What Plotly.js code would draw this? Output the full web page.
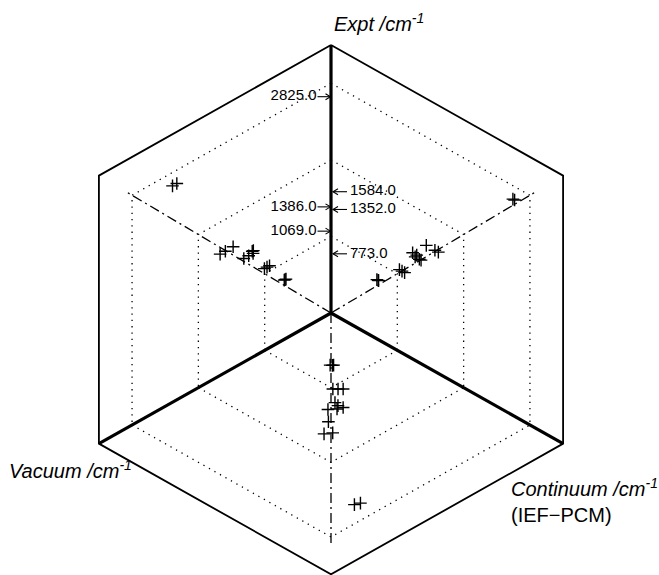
<!DOCTYPE html>
<html><head><meta charset="utf-8">
<script src="https://cdn.plot.ly/plotly-3.0.1.min.js"></script>
<style>html,body{margin:0;padding:0;background:#fff}#chart{width:659px;height:575px}</style>
</head><body><div id="chart"></div>
<script>
// ---- data (cm^-1) ----
const expt      = [2825, 2825,  773,  773,  773, 1069, 1069, 1069, 1352, 1352, 1386, 1386, 1352, 1584, 1584, 1584];
const vacuum    = [2390, 2325,  679,  705,  692, 1004,  965,  927, 1315, 1175, 1171, 1188, 1241, 1476, 1672, 1593];
const continuum = [2743, 2769,  718,  692,  712, 1032, 1071, 1110, 1269, 1358, 1231, 1293, 1332, 1437, 1567, 1619];
const exptLabels = [2825.0, 1584.0, 1386.0, 1352.0, 1069.0, 773.0];
const labelSides = ['left', 'right', 'left', 'right', 'left', 'right'];
const gridValues = [1000, 2000, 3000];
const axisMax = 3500;
const diagMax = 3100;
const titleExpt = '<i>Expt /cm<sup>-1</sup></i>';
const titleVacuum = '<i>Vacuum /cm<sup>-1</sup></i>';
const titleContinuum = '<i>Continuum /cm<sup>-1</sup></i><br>(IEF\u2212PCM)';

// ---- near-isometric parallel projection onto a 2D axis pair in cm^-1 units ----
const W = 659, H = 575, CX = 331, CY = 313, PX = 268 / axisMax;
const C30 = Math.cos(Math.PI / 6), SV = 0.4875;
function proj(a, c, e) { return [(c - a) * C30, e - (a + c) * SV]; }
function path(list) {
  const x = [], y = [];
  list.forEach(pl => { pl.forEach(p => { const q = proj(p[0], p[1], p[2]); x.push(q[0]); y.push(q[1]); }); x.push(null); y.push(null); });
  return {x, y};
}
const M = axisMax;
const outline = path([[[0,0,M],[M,0,M],[M,0,0],[M,M,0],[0,M,0],[0,M,M],[0,0,M]]]);
const axesP = path([[[0,0,0],[M,0,0]], [[0,0,0],[0,M,0]], [[0,0,0],[0,0,M]]]);
const gridL = [];
gridValues.forEach(v => {
  gridL.push([[0,0,v],[v,0,v],[v,0,0]]);
  gridL.push([[0,0,v],[0,v,v],[0,v,0]]);
  gridL.push([[v,0,0],[v,v,0],[0,v,0]]);
});
const grid = path(gridL);
const diag = path([[[0,0,0],[diagMax,0,diagMax]], [[0,0,0],[0,diagMax,diagMax]], [[0,0,0],[diagMax,diagMax,0]]]);

const mx = [], my = [];
for (let i = 0; i < expt.length; i++) {
  [[vacuum[i], 0, expt[i]], [0, continuum[i], expt[i]], [vacuum[i], continuum[i], 0]].forEach(p => {
    const q = proj(p[0], p[1], p[2]); mx.push(q[0]); my.push(q[1]);
  });
}

// label arrows (pointing at the Expt axis value) and label texts
const px = d => d / PX; // pixel length -> data units
const ax = [], ay = [];
const tL = {x: [], y: [], t: []}, tR = {x: [], y: [], t: []};
exptLabels.forEach((v, i) => {
  const q = proj(0, 0, v);
  const left = labelSides[i] === 'left';
  const sgn = left ? -1 : 1;
  const tip = q[0] + sgn * px(left ? 0.5 : 2), tail = q[0] + sgn * (left ? px(13.5) : px(16));
  ax.push(tail, tip, null, tip + sgn * px(5), tip, tip + sgn * px(5), null);
  ay.push(q[1], q[1], null, q[1] + px(3), q[1], q[1] - px(3), null);
  const tgt = left ? tL : tR;
  tgt.x.push(tail + sgn * px(left ? 1 : 3)); tgt.y.push(q[1]); tgt.t.push(v.toFixed(1));
});

const lfontsize = 15;
const traces = [
  {x: grid.x, y: grid.y, mode: 'lines', line: {color: '#000', width: 1.3, dash: '1.3px,5px'}, hoverinfo: 'skip'},
  {x: diag.x, y: diag.y, mode: 'lines', line: {color: '#000', width: 1.3, dash: '10px,4px,2px,4px'}, hoverinfo: 'skip'},
  {x: outline.x, y: outline.y, mode: 'lines', line: {color: '#000', width: 1.8}, hoverinfo: 'skip'},
  {x: axesP.x, y: axesP.y, mode: 'lines', line: {color: '#000', width: 3.2}, hoverinfo: 'skip'},
  {x: mx, y: my, mode: 'markers', marker: {symbol: 'cross-thin-open', size: 9, color: '#000', line: {color: '#000', width: 1.4}}, hoverinfo: 'skip'},
  {x: ax, y: ay, mode: 'lines', line: {color: '#000', width: 1.1}, hoverinfo: 'skip'},
  {x: tL.x, y: tL.y, text: tL.t, mode: 'text', textposition: 'middle left', textfont: {family: 'Liberation Sans, Arial, sans-serif', size: lfontsize, color: '#000'}, hoverinfo: 'skip'},
  {x: tR.x, y: tR.y, text: tR.t, mode: 'text', textposition: 'middle right', textfont: {family: 'Liberation Sans, Arial, sans-serif', size: lfontsize, color: '#000'}, hoverinfo: 'skip'}
];

const tfont = {family: 'Liberation Sans, Arial, sans-serif', size: 20, color: '#000'};
const annotations = [
  {x: 332 / W, y: 1 - 37 / H, xref: 'paper', yref: 'paper', xanchor: 'left', yanchor: 'bottom', text: titleExpt, showarrow: false, font: tfont},
  {x: 7 / W, y: 1 - 484 / H, xref: 'paper', yref: 'paper', xanchor: 'left', yanchor: 'bottom', text: titleVacuum, showarrow: false, font: tfont},
  {x: 509 / W, y: 1 - 528 / H, xref: 'paper', yref: 'paper', xanchor: 'left', yanchor: 'bottom', align: 'left', text: titleContinuum, showarrow: false, font: tfont}
];

const layout = {
  width: W, height: H, margin: {l: 0, r: 0, t: 0, b: 0},
  paper_bgcolor: '#fff', plot_bgcolor: '#fff', showlegend: false,
  font: {family: 'Liberation Sans, Arial, sans-serif', color: '#000'},
  xaxis: {range: [-CX / PX, (W - CX) / PX], visible: false, fixedrange: true},
  yaxis: {range: [-(H - CY) / PX, CY / PX], visible: false, fixedrange: true},
  annotations: annotations
};
Plotly.newPlot('chart', traces, layout, {staticPlot: true, displayModeBar: false});
</script></body></html>
